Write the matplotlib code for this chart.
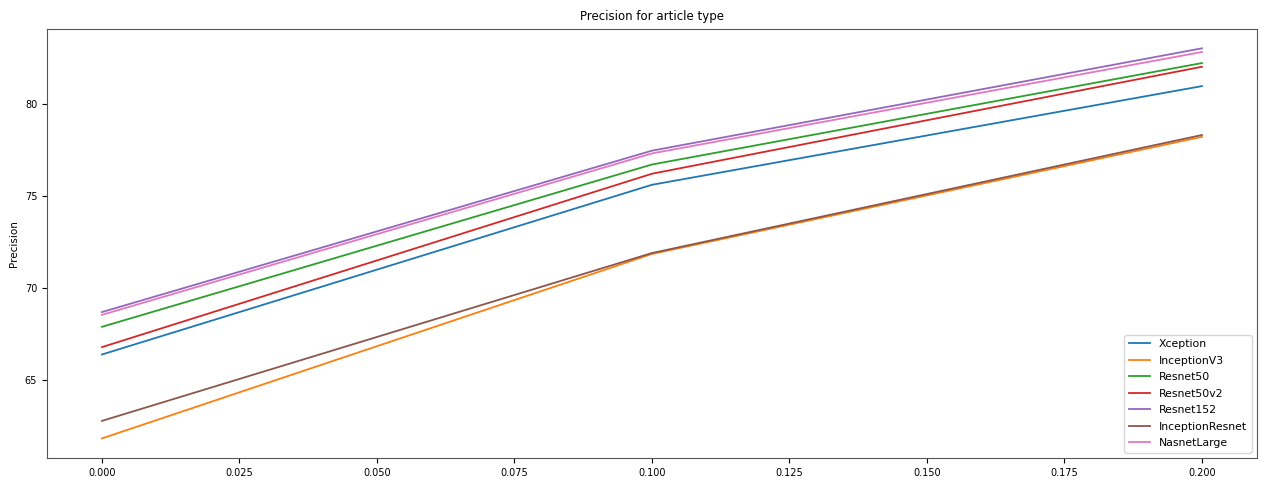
import numpy as np
import matplotlib.pyplot as plt

# data
x = [0.0, 0.1, 0.2]

xception = [66.4, 75.6, 80.95]
inception_v3 = [61.85, 71.85, 78.2]
resnet50 = [67.9, 76.7, 82.2]
resnet50v2 = [66.8, 76.2, 82.0]
resnet152 = [68.7, 77.45, 83.0]
inception_resnet = [62.8, 71.9, 78.3]
nasnet_large = [68.55, 77.3, 82.8]

names = ["Xception", "InceptionV3", "Resnet50", "Resnet50v2",
         "Resnet152", "InceptionResnet", "NasnetLarge"]
series = [xception, inception_v3, resnet50, resnet50v2,
          resnet152, inception_resnet, nasnet_large]


def plot():
    fig = plt.figure(figsize=(12.69, 4.8), dpi=100)
    ax = fig.add_axes([0.037, 0.046, 0.9535, 0.894])

    for name, vals in zip(names, series):
        ax.plot(x, vals, label=name, linewidth=1.3)

    ax.set_ylabel("Precision", fontsize=7.5)
    ax.set_title("Precision for article type", fontsize=8.5)
    ax.tick_params(labelsize=7)
    ax.legend(loc="lower right", fontsize=7.8, labelspacing=0.6)

    for s in ax.spines.values():
        s.set_color("#555555")

    fig.savefig("out.png", dpi=100)
    plt.close(fig)


if __name__ == "__main__":
    plot()
